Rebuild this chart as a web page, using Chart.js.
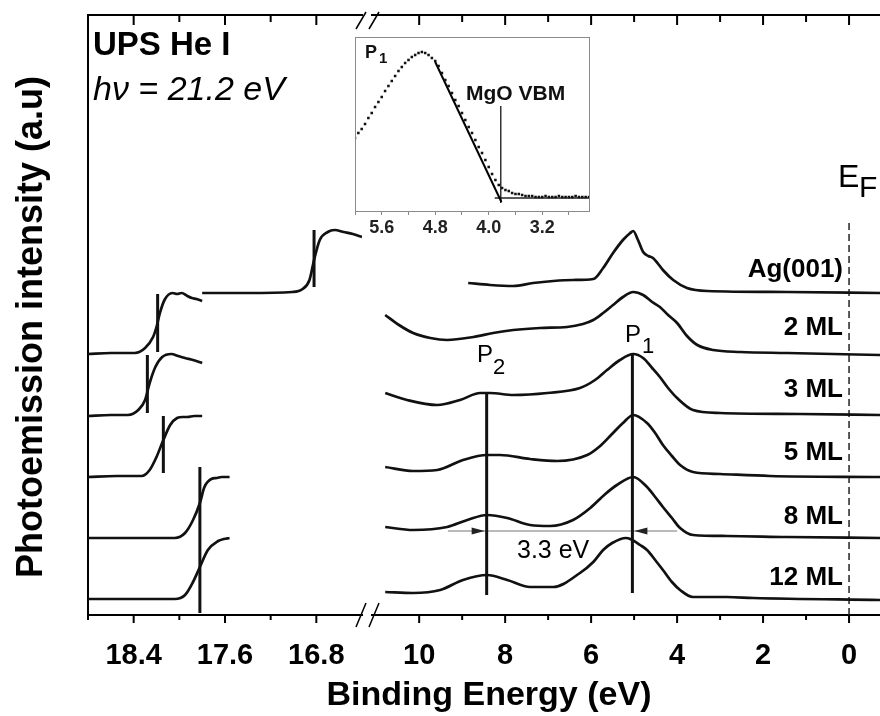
<!DOCTYPE html>
<html>
<head>
<meta charset="utf-8">
<script src="https://cdn.jsdelivr.net/npm/chart.js@4.4.0/dist/chart.umd.min.js"></script>
<style>
html, body { margin: 0; padding: 0; background: #fff; overflow: hidden; }
#wrap { position: relative; width: 880px; height: 716px; }
#main { position: absolute; left: 0; top: 0; }
#inset { position: absolute; left: 350px; top: 32px; }
</style>
</head>
<body>
<div id="wrap">
  <canvas id="main" width="880" height="716"></canvas>
  <canvas id="inset" width="245" height="210"></canvas>
</div>
<script>
Chart.defaults.font.family = "'Liberation Sans', Arial, sans-serif";
Chart.defaults.color = '#000';

// tick labels
var leftLabels = [18.4, 17.6, 16.8];
var rightLabels = [10, 8, 6, 4, 2, 0];
var insetLabels = [5.6, 4.8, 4.0, 3.2];

// sample names (top to bottom)
var samples = ['Ag(001)', '2 ML', '3 ML', '5 ML', '8 ML', '12 ML'];

// secondary electron cutoff (left part of the axis)
var agCutE = [17.80, 17.40, 17.01, 16.92, 16.86, 16.82, 16.77, 16.70, 16.64, 16.56, 16.48, 16.40];
var agCutY = [322, 322, 323, 326, 335, 355, 375, 383, 385, 383, 381, 378];
var ml2CutE = [18.80, 18.60, 18.39, 18.30, 18.23, 18.20, 18.17, 18.13, 18.06, 18.02, 17.98, 17.93, 17.89, 17.85, 17.80];
var ml2CutY = [261, 262, 262, 267, 278, 288, 302, 315, 322, 321, 322, 319, 317, 316, 314];
var ml3CutE = [18.80, 18.60, 18.45, 18.36, 18.30, 18.26, 18.21, 18.15, 18.07, 18.01, 17.95, 17.88, 17.80];
var ml3CutY = [199, 200, 200, 205, 215, 232, 248, 258, 261, 259, 257, 255, 252];
var ml5CutE = [18.80, 18.55, 18.33, 18.26, 18.20, 18.14, 18.08, 18.02, 17.97, 17.93, 17.87, 17.80];
var ml5CutY = [138, 139, 139, 145, 158, 175, 190, 197, 198, 198, 199, 199];
var ml8CutE = [18.80, 18.40, 18.04, 17.95, 17.88, 17.82, 17.78, 17.72, 17.67, 17.63, 17.56];
var ml8CutY = [77, 77, 77, 82, 95, 112, 128, 136, 137, 138, 138];
var ml12CutE = [18.80, 18.40, 18.04, 17.95, 17.88, 17.82, 17.75, 17.66, 17.61, 17.56];
var ml12CutY = [16, 16, 16, 20, 33, 48, 65, 74, 76, 77];

// cutoff markers: energy, bottom, top
var cutMarkE = [16.82, 18.19, 18.28, 18.14, 17.82];
var cutMarkLo = [328, 263, 202, 142, 2];
var cutMarkHi = [385, 321, 260, 199, 148];

// valence band (right part of the axis)
var agVbE = [8.86, 8.35, 7.81, 7.35, 6.88, 6.42, 5.95, 5.72, 5.49, 5.26, 5.09, 5.02, 4.91, 4.79, 4.67, 4.56, 4.44, 4.33, 4.09, 3.77, 3.30, 1.44, -0.72];
var agVbY = [332, 330, 329, 332, 334, 335, 336, 347, 362, 375, 382, 384, 375, 363, 359, 357, 351, 345, 335, 327, 324, 323, 322];
var ml2VbE = [10.79, 10.47, 10.14, 9.74, 9.35, 8.74, 8.28, 7.81, 7.19, 6.56, 6.19, 5.95, 5.72, 5.49, 5.26, 5.02, 4.79, 4.58, 4.40, 4.21, 4.00, 3.77, 3.53, 3.16, 2.53, 1.44, -0.72];
var ml2VbY = [300, 290, 282, 277, 275, 278, 282, 285, 287, 288, 291, 295, 302, 310, 318, 323, 320, 313, 308, 300, 292, 279, 270, 265, 263, 262, 260];
var ml3VbE = [10.79, 10.28, 9.58, 9.05, 8.58, 8.35, 7.81, 7.02, 6.26, 5.91, 5.63, 5.33, 5.02, 4.79, 4.58, 4.40, 4.21, 4.00, 3.63, 3.00, 1.14, -0.72];
var ml3VbY = [222, 215, 210, 215, 222, 222, 220, 222, 227, 235, 245, 255, 261, 257, 247, 238, 227, 217, 205, 202, 201, 200];
var ml5VbE = [10.79, 10.14, 9.58, 8.98, 8.42, 8.12, 7.42, 6.79, 6.09, 5.79, 5.49, 5.26, 5.02, 4.70, 4.51, 4.33, 4.12, 3.93, 3.63, 3.00, 1.84, -0.72];
var ml5VbY = [148, 144, 145, 155, 160, 160, 156, 154, 160, 169, 182, 192, 200, 192, 182, 170, 159, 150, 143, 141, 139, 138];
var ml8VbE = [10.79, 10.14, 9.35, 8.88, 8.42, 7.95, 7.42, 6.95, 6.42, 6.02, 5.67, 5.40, 5.02, 4.70, 4.51, 4.33, 4.12, 3.93, 3.63, 2.84, 1.44, -0.72];
var ml8VbY = [88, 85, 88, 95, 100, 97, 90, 89, 95, 107, 121, 130, 138, 128, 118, 108, 97, 87, 80, 79, 78, 77];
var ml12VbE = [10.79, 10.14, 9.51, 8.98, 8.42, 7.95, 7.42, 6.88, 6.26, 5.95, 5.72, 5.51, 5.19, 5.09, 4.86, 4.70, 4.51, 4.33, 4.12, 3.93, 3.63, 2.84, 2.23, -0.72];
var ml12VbY = [23, 22, 25, 35, 40, 35, 28, 28, 42, 53, 65, 72, 77, 76, 70, 65, 55, 45, 33, 25, 18, 18, 17, 15];

// P1 / P2 peak lines
var peakE = [5.04, 8.43];
var peakLo = [22, 20];
var peakHi = [262, 222];
// 3.3 eV separation arrow
var arrowE = [9.33, 4.00];
var arrowY = [84, 84];
// Fermi level
var fermiE = [0, 0];
var fermiY = [0, 395];

// inset: MgO VBM
var insetE = [6.00, 5.95, 5.90, 5.85, 5.80, 5.75, 5.70, 5.65, 5.60, 5.55, 5.50, 5.45, 5.40, 5.35, 5.30, 5.25, 5.20, 5.15, 5.10, 5.05,
              5.00, 4.95, 4.90, 4.85, 4.80, 4.75, 4.70, 4.65, 4.60, 4.55, 4.50, 4.45, 4.40, 4.35, 4.30, 4.25, 4.20, 4.15, 4.10, 4.05,
              4.00, 3.95, 3.90, 3.85, 3.80, 3.75, 3.70, 3.65, 3.60, 3.55, 3.50, 3.45, 3.40, 3.35, 3.30, 3.25, 3.20, 3.15, 3.10, 3.05,
              3.00, 2.95, 2.90, 2.85, 2.80, 2.75, 2.70, 2.65, 2.60, 2.55, 2.50];
var insetY = [73, 78, 82, 87, 93, 98, 104, 109, 114, 120, 125, 130, 135, 140, 144, 148, 151, 154, 156, 158,
              159, 158, 156, 153, 150, 145, 138, 131, 125, 118, 111, 105, 98, 91, 84, 78, 71, 64, 58, 51,
              44, 37, 31, 26, 23, 21, 20, 18, 17, 17, 16, 15, 15, 15, 14, 14, 14, 15, 14, 14,
              14, 15, 14, 14, 14, 14, 15, 14, 14, 14, 14];
var fitE = [4.80, 3.81];
var fitY = [149, 9];
var baseE = [3.91, 2.50];
var baseY = [13, 13];
var vbmE = [3.82, 3.82];
var vbmY = [8, 105];

function pts(xs, ys) {
    return xs.map(function (x, i) { return { x: x, y: ys[i] }; });
}

function curve(xs, ys, axis) {
    return {
        data: pts(xs, ys), xAxisID: axis, yAxisID: 'y',
        borderColor: '#111', borderWidth: 2.7, pointRadius: 0,
        cubicInterpolationMode: 'monotone', fill: false
    };
}

function seg(xs, ys, axis, width, color, dash) {
    return {
        data: pts(xs, ys), xAxisID: axis, yAxisID: 'y',
        borderColor: color, borderWidth: width, pointRadius: 0,
        borderDash: dash || [], fill: false, tension: 0
    };
}

function isLabel(list, v) {
    return list.some(function (l) { return Math.abs(l - v) < 1e-6; });
}

var datasets = [
    curve(agCutE, agCutY, 'xl'),
    curve(ml2CutE, ml2CutY, 'xl'),
    curve(ml3CutE, ml3CutY, 'xl'),
    curve(ml5CutE, ml5CutY, 'xl'),
    curve(ml8CutE, ml8CutY, 'xl'),
    curve(ml12CutE, ml12CutY, 'xl'),
    curve(agVbE, agVbY, 'xr'),
    curve(ml2VbE, ml2VbY, 'xr'),
    curve(ml3VbE, ml3VbY, 'xr'),
    curve(ml5VbE, ml5VbY, 'xr'),
    curve(ml8VbE, ml8VbY, 'xr'),
    curve(ml12VbE, ml12VbY, 'xr')
];
cutMarkE.forEach(function (e, i) {
    datasets.push(seg([e, e], [cutMarkLo[i], cutMarkHi[i]], 'xl', 3, '#111'));
});
peakE.forEach(function (e, i) {
    datasets.push(seg([e, e], [peakLo[i], peakHi[i]], 'xr', 3, '#111'));
});
datasets.push(seg(arrowE, arrowY, 'xr', 1.2, '#777'));
datasets.push(seg(fermiE, fermiY, 'xr', 1.5, '#222', [7, 4]));

function text(ctx, s, x, y, font, align) {
    ctx.font = font;
    ctx.textAlign = align || 'left';
    ctx.fillText(s, x, y);
}

// x axes must run right to the edges, no room kept for end labels
function fixX(s) {
    s.height = 101;
    s.paddingLeft = 0;
    s.paddingRight = 0;
}

var decor = {
    id: 'decor',
    afterDraw: function (chart) {
        var ctx = chart.ctx, a = chart.chartArea;
        var xl = chart.scales.xl, xr = chart.scales.xr;
        var gapL = xl.right + 1, gapR = xl.right + 9;
        ctx.save();
        ctx.strokeStyle = '#000';
        ctx.fillStyle = '#000';
        ctx.textBaseline = 'alphabetic';

        // top frame line with the break gap
        ctx.lineWidth = 2;
        ctx.beginPath();
        ctx.moveTo(a.left, a.top); ctx.lineTo(gapL, a.top);
        ctx.moveTo(gapR, a.top); ctx.lineTo(a.right, a.top);
        ctx.stroke();
        ctx.fillStyle = '#fff';
        ctx.fillRect(gapL, a.bottom - 3, gapR - gapL, 6);
        ctx.fillStyle = '#000';

        // ticks: out at the bottom, in at the top
        [[xl, leftLabels], [xr, rightLabels]].forEach(function (p) {
            var sc = p[0];
            sc.ticks.forEach(function (t) {
                var px = sc.getPixelForValue(t.value);
                if (px > xl.right - 4 && px < xl.right + 16) return;
                var major = isLabel(p[1], t.value);
                ctx.lineWidth = 2;
                ctx.beginPath();
                ctx.moveTo(px, a.bottom); ctx.lineTo(px, a.bottom + (major ? 8 : 5));
                ctx.moveTo(px, a.top); ctx.lineTo(px, a.top + (major ? 10 : 7));
                ctx.stroke();
            });
        });

        // break marks
        ctx.lineWidth = 1.5;
        ctx.beginPath();
        [0, 13].forEach(function (d) {
            ctx.moveTo(gapL - 7 + d, a.top + 14); ctx.lineTo(gapL + 3 + d, a.top - 3);
            ctx.moveTo(gapL - 7 + d, a.bottom + 12); ctx.lineTo(gapL + 3 + d, a.bottom - 12);
        });
        ctx.stroke();

        // arrow heads on the 3.3 eV line
        var ay = chart.scales.y.getPixelForValue(arrowY[0]);
        var t2 = xr.getPixelForValue(peakE[1]) - 2, t1 = xr.getPixelForValue(peakE[0]) + 2;
        ctx.fillStyle = '#222';
        ctx.beginPath();
        ctx.moveTo(t2, ay); ctx.lineTo(t2 - 13, ay - 3.5); ctx.lineTo(t2 - 13, ay + 3.5); ctx.closePath();
        ctx.moveTo(t1, ay); ctx.lineTo(t1 + 13, ay - 3.5); ctx.lineTo(t1 + 13, ay + 3.5); ctx.closePath();
        ctx.fill();
        ctx.fillStyle = '#000';

        // sample labels
        var labelBase = [277, 335, 397, 460, 524, 585];
        samples.forEach(function (s, i) {
            text(ctx, s, 843, labelBase[i], 'bold 26px "Liberation Sans"', 'right');
        });

        // annotations
        text(ctx, 'UPS He I', 93, 55, 'bold 33px "Liberation Sans"');
        text(ctx, 'h\u03bd = 21.2 eV', 93, 100, 'italic 34px "Liberation Sans"');
        text(ctx, 'E', 838, 187, '32px "Liberation Sans"');
        text(ctx, 'F', 859, 197, '30px "Liberation Sans"');
        text(ctx, 'P', 625, 342, '24px "Liberation Sans"');
        text(ctx, '1', 642, 353, '22px "Liberation Sans"');
        text(ctx, 'P', 477, 362, '24px "Liberation Sans"');
        text(ctx, '2', 493, 374, '22px "Liberation Sans"');
        text(ctx, '3.3 eV', 517, 558, '25px "Liberation Sans"');

        // axis titles
        text(ctx, 'Binding Energy (eV)', 489, 705, 'bold 34px "Liberation Sans"', 'center');
        ctx.save();
        ctx.translate(42, 327);
        ctx.rotate(-Math.PI / 2);
        text(ctx, 'Photoemission intensity (a.u)', 0, 0, 'bold 36px "Liberation Sans"', 'center');
        ctx.restore();
        ctx.restore();
    }
};

var tickFont = { size: 29, weight: 'bold' };

new Chart(document.getElementById('main'), {
    type: 'line',
    data: { datasets: datasets },
    options: {
        responsive: false,
        animation: false,
        devicePixelRatio: 1,
        layout: { padding: { top: 15, right: 0, left: 0, bottom: 0 } },
        plugins: { legend: { display: false }, tooltip: { enabled: false } },
        scales: {
            xl: {
                type: 'linear', position: 'bottom', stack: 'energy', stackWeight: 274,
                reverse: true, min: 16.4, max: 18.8,
                grid: { display: false },
                border: { display: true, color: '#000', width: 2 },
                ticks: {
                    stepSize: 0.4, includeBounds: false, autoSkip: false, maxRotation: 0,
                    padding: 16, color: '#000', font: tickFont,
                    callback: function (v) { return isLabel(leftLabels, v) ? v.toFixed(1) : ''; }
                },
                afterFit: fixX
            },
            xr: {
                type: 'linear', position: 'bottom', stack: 'energy', stackWeight: 518,
                reverse: true, min: -0.72, max: 11.33,
                grid: { display: false },
                border: { display: true, color: '#000', width: 2 },
                ticks: {
                    stepSize: 1, includeBounds: false, autoSkip: false, maxRotation: 0,
                    padding: 16, color: '#000', font: tickFont,
                    callback: function (v) { return isLabel(rightLabels, v) ? String(v) : ''; }
                },
                afterFit: fixX
            },
            y: {
                type: 'linear', position: 'left', min: 0, max: 600,
                grid: { display: false },
                ticks: { display: false },
                border: { display: true, color: '#000', width: 2 },
                afterFit: function (s) { s.width = 88; }
            }
        }
    },
    plugins: [decor]
});

// inset
var insetDecor = {
    id: 'insetDecor',
    afterDraw: function (chart) {
        var ctx = chart.ctx, a = chart.chartArea;
        ctx.save();
        ctx.strokeStyle = '#8a8a8a';
        ctx.lineWidth = 1;
        ctx.strokeRect(a.left + 0.5, a.top + 0.5, a.right - a.left, a.bottom - a.top);
        ctx.fillStyle = '#111';
        ctx.textBaseline = 'alphabetic';
        text(ctx, 'P', 15, 26, 'bold 18px "Liberation Sans"');
        text(ctx, '1', 29, 31, 'bold 15px "Liberation Sans"');
        text(ctx, 'MgO VBM', 116, 68, 'bold 21px "Liberation Sans"');
        ctx.restore();
    }
};

new Chart(document.getElementById('inset'), {
    type: 'scatter',
    data: {
        datasets: [
            { data: pts(insetE, insetY), pointStyle: 'rect', pointRadius: 1.8, backgroundColor: '#111', borderWidth: 0, showLine: false },
            { data: pts(fitE, fitY), showLine: true, borderColor: '#000', borderWidth: 2, pointRadius: 0 },
            { data: pts(baseE, baseY), showLine: true, borderColor: '#222', borderWidth: 1.5, pointRadius: 0 },
            { data: pts(vbmE, vbmY), showLine: true, borderColor: '#333', borderWidth: 1.5, pointRadius: 0 }
        ]
    },
    options: {
        responsive: false,
        animation: false,
        devicePixelRatio: 1,
        layout: { padding: { left: 5, right: 6, top: 5, bottom: 0 } },
        plugins: { legend: { display: false }, tooltip: { enabled: false } },
        scales: {
            x: {
                type: 'linear', reverse: true, min: 2.5, max: 6.0,
                grid: { display: true, drawOnChartArea: false, drawTicks: true, tickLength: 4, color: '#888' },
                border: { display: false },
                ticks: {
                    stepSize: 0.4, includeBounds: false, autoSkip: false, maxRotation: 0,
                    padding: 2, color: '#222', font: { size: 18, weight: 'bold' },
                    callback: function (v) { return isLabel(insetLabels, v) ? v.toFixed(1) : ''; }
                },
                afterFit: function (s) { s.height = 31; s.paddingLeft = 0; s.paddingRight = 0; }
            },
            y: { type: 'linear', display: false, min: 0, max: 174 }
        }
    },
    plugins: [insetDecor]
});
</script>
</body>
</html>
